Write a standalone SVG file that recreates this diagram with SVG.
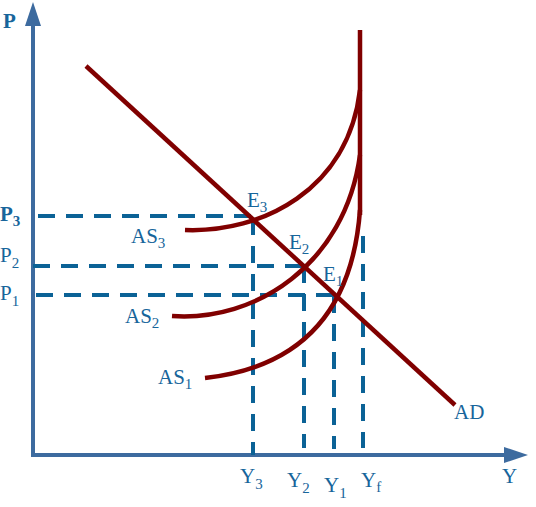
<svg xmlns="http://www.w3.org/2000/svg" width="536" height="507" viewBox="0 0 536 507">
<style>
.ax{stroke:#3d6b9f;stroke-width:4;fill:none}
.axh{fill:#3d6b9f}
.cv{stroke:#800000;stroke-width:4.5;fill:none}
.ds{stroke:#0b6296;stroke-width:4;stroke-dasharray:17 11;fill:none}
.t{font-family:"Liberation Serif","Times New Roman",serif;font-size:21px;fill:#17659b}
.s{font-size:15px}
</style>
<g id="axes">
<line class="ax" x1="33" y1="457" x2="33" y2="20"/>
<polygon class="axh" points="33,2 25,26 41,26"/>
<line class="ax" x1="31" y1="455" x2="510" y2="455"/>
<polygon class="axh" points="528,455 504,447 504,463"/>
</g>
<g id="connectors">
<line class="ds" x1="38" y1="216" x2="253" y2="216"/>
<line class="ds" x1="33" y1="266" x2="304" y2="266"/>
<line class="ds" x1="36" y1="295" x2="334" y2="295"/>
<line class="ds" x1="253" y1="218" x2="253" y2="455"/>
<line class="ds" x1="304" y1="266" x2="304" y2="448"/>
<line class="ds" x1="334" y1="296" x2="334" y2="449"/>
<line class="ds" x1="363" y1="236" x2="363" y2="448"/>
</g>
<g id="LRAS">
<line class="cv" x1="360" y1="30" x2="360" y2="215"/>
</g>
<g id="AS3"><path class="cv" d="M185,230 C262,233 348,190 360,90"/></g>
<g id="AS2"><path class="cv" d="M172,316 C255,322 345,265 360,155"/></g>
<g id="AS1"><path class="cv" d="M205,378 C295,368 352,318 360,210"/></g>
<g id="AD"><line class="cv" x1="86" y1="66" x2="455" y2="405"/></g>
<g id="labels">
<text class="t" x="3" y="28" font-weight="bold">P</text>
<text class="t" x="0" y="221" font-weight="bold">P<tspan class="s" dy="5">3</tspan></text>
<text class="t" x="0" y="262">P<tspan class="s" dy="6">2</tspan></text>
<text class="t" x="0" y="300">P<tspan class="s" dy="6">1</tspan></text>
<text class="t" x="131" y="243">AS<tspan class="s" dy="5">3</tspan></text>
<text class="t" x="125" y="323">AS<tspan class="s" dy="5">2</tspan></text>
<text class="t" x="158" y="384">AS<tspan class="s" dy="5">1</tspan></text>
<text class="t" x="247" y="207">E<tspan class="s" dy="5">3</tspan></text>
<text class="t" x="289" y="249">E<tspan class="s" dy="5">2</tspan></text>
<text class="t" x="323" y="281">E<tspan class="s" dy="5">1</tspan></text>
<text class="t" x="240" y="483">Y<tspan class="s" dy="6">3</tspan></text>
<text class="t" x="287" y="487">Y<tspan class="s" dy="6">2</tspan></text>
<text class="t" x="324" y="492">Y<tspan class="s" dy="6">1</tspan></text>
<text class="t" x="361" y="487">Y<tspan class="s" dy="5">f</tspan></text>
<text class="t" x="502" y="483">Y</text>
<text class="t" x="454" y="419">AD</text>
</g>
</svg>
